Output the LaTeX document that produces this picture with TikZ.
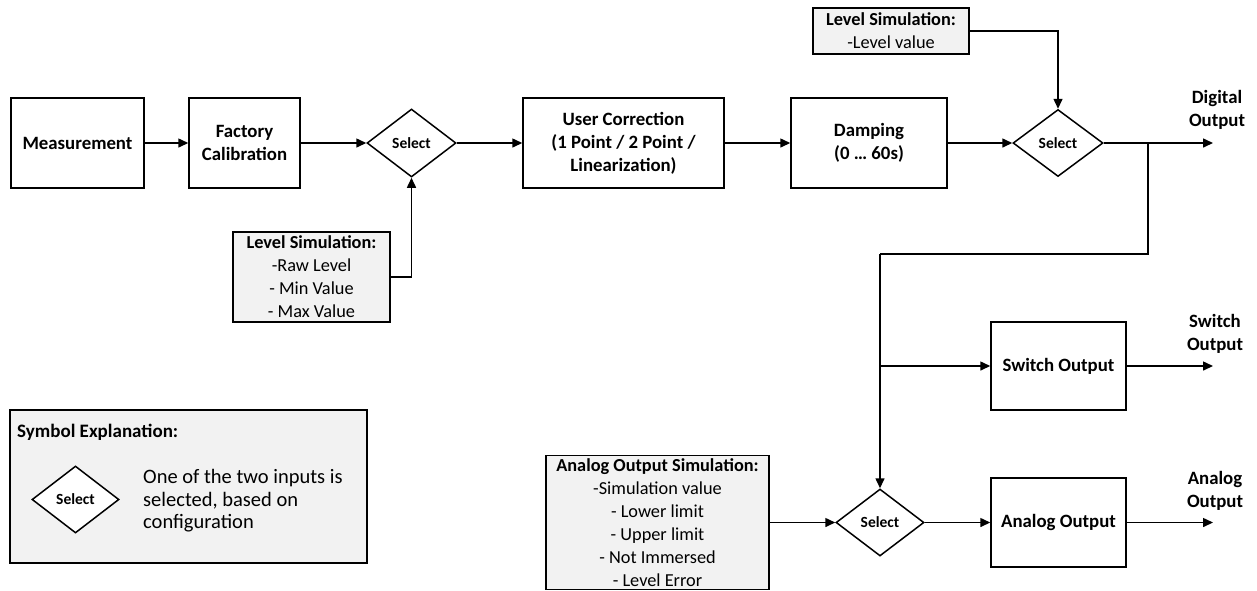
\documentclass[tikz,border=0pt]{standalone}
\usepackage{fontspec}
\setmainfont{Carlito}
\usetikzlibrary{shapes.geometric,arrows.meta}
\definecolor{simfill}{HTML}{F2F2F2}
\tikzset{
  blk/.style={draw, line width=1.5pt, rectangle, inner sep=0pt, align=center, font=\fontsize{18.8}{23}\selectfont\bfseries},
  sim/.style={draw, line width=1.5pt, rectangle, fill=simfill, inner sep=0pt, align=center, font=\fontsize{18.3}{23}\selectfont},
  sel/.style={draw, line width=1.5pt, diamond, inner sep=0pt, font=\fontsize{15.5}{16}\selectfont\bfseries},
  lbl/.style={align=center, inner sep=0pt, font=\fontsize{18.8}{23}\selectfont\bfseries},
  conn/.style={line width=1.5pt},
  arr/.style={line width=1.5pt, -{Triangle[length=10pt,width=9pt]}},
}
\begin{document}
\begin{tikzpicture}[x=1pt,y=-1pt]
\useasboundingbox (0,0) rectangle (1257,590);
% main chain
\node[blk, minimum width=133pt, minimum height=90pt] (meas) at (77.5,143) {Measurement};
\node[blk, minimum width=111pt, minimum height=90pt] (fact) at (244.5,143) {Factory\\Calibration};
\node[sel, minimum width=89pt, minimum height=68pt] (sel1) at (411.5,143) {Select};
\node[blk, minimum width=201pt, minimum height=90pt] (user) at (623.5,143) {User Correction\\(1 Point / 2 Point /\\Linearization)};
\node[blk, minimum width=156pt, minimum height=90pt] (damp) at (869,143) {Damping\\(0 \dots{} 60s)};
\node[sel, minimum width=90pt, minimum height=67pt] (sel2) at (1058,143) {Select};
\node[sim, minimum width=156pt, minimum height=46pt] (lsimtop) at (891,31) {\textbf{Level Simulation:}\\-Level value};
\node[sim, minimum width=157pt, minimum height=90pt] (lsimbot) at (311.5,277) {\textbf{Level Simulation:}\\-Raw Level\\- Min Value\\- Max Value};
% outputs
\node[blk, minimum width=135pt, minimum height=88pt] (sw) at (1058.5,366) {Switch Output};
\node[blk, minimum width=135pt, minimum height=89pt] (ana) at (1058.5,522.5) {Analog Output};
\node[sel, minimum width=88pt, minimum height=67pt] (sel3) at (880,522.5) {Select};
\node[sim, minimum width=223pt, minimum height=134pt] (aosim) at (657.5,522.5) {\textbf{Analog Output Simulation:}\\-Simulation value\\- Lower limit\\- Upper limit\\- Not Immersed\\- Level Error};
% output labels
\node[lbl] (dlab) at (1217,110) {Digital\\Output};
\node[lbl] (slab) at (1215,334) {Switch\\Output};
\node[lbl] (alab) at (1215,490.5) {Analog\\Output};
\coordinate (dout) at (1213,143);
\coordinate (sout) at (1213,366);
\coordinate (aout) at (1213,522.5);
\coordinate (br1) at (1148,143);
\coordinate (br2) at (1148,254);
\coordinate (br3) at (880,254);
\coordinate (br4) at (880,366);
% connectors
\draw[arr] (meas) -- (fact);
\draw[arr] (fact) -- (sel1);
\draw[arr] (sel1) -- (user);
\draw[arr] (user) -- (damp);
\draw[arr] (damp) -- (sel2);
\draw[arr] (lsimbot.east) -| (sel1.south);
\draw[arr] (lsimtop.east) -| (sel2.north);
\draw[arr] (sel2.east) -- (dout);
\draw[conn] (br1) -- (br2) -- (br3);
\draw[arr] (br3) -- (sel3.north);
\draw[arr] (br4) -- (sw.west);
\draw[arr] (aosim.east) -- (sel3.west);
\draw[arr] (sel3.east) -- (ana.west);
\draw[arr] (sw.east) -- (sout);
\draw[arr] (ana.east) -- (aout);
% legend
\node[draw, line width=1.5pt, fill=simfill, rectangle, minimum width=357pt, minimum height=153pt, inner sep=0pt] (legend) at (188.5,486.5) {};
\node[anchor=west, inner sep=0pt, font=\fontsize{19}{23}\selectfont\bfseries] (legtitle) at (17,432) {Symbol Explanation:};
\node[sel, fill=white, minimum width=87pt, minimum height=67pt] (legsel) at (75.5,499.5) {Select};
\node[anchor=west, align=left, inner sep=0pt, font=\fontsize{20.5}{22.5}\selectfont] (legtext) at (143,501) {One of the two inputs is\\selected, based on\\configuration};
\end{tikzpicture}
\end{document}
